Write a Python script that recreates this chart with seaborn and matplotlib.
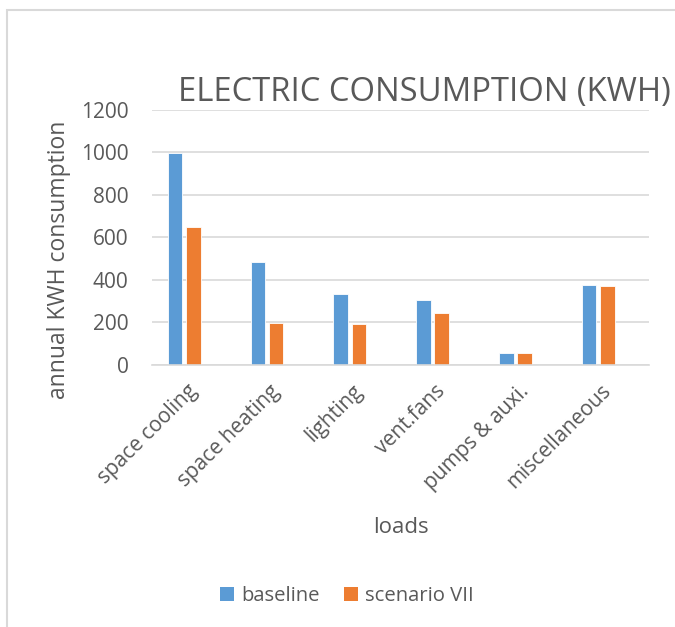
import matplotlib
matplotlib.use("Agg")
import matplotlib.pyplot as plt
from matplotlib.patches import Rectangle, Patch
from matplotlib.transforms import ScaledTranslation
import pandas as pd
import seaborn as sns

# Annual electric consumption per load type
categories = ["space cooling", "space heating", "lighting", "vent.fans",
              "pumps & auxi.", "miscellaneous"]
baseline = [994, 482, 332, 305, 56, 376]
scenario_vii = [648, 199, 194, 246, 56, 372]
series_names = ["baseline", "scenario VII"]
colors = ["#5B9BD5", "#ED7D31"]
y_ticks = [0, 200, 400, 600, 800, 1000, 1200]

df = pd.DataFrame({
    "load": categories * 2,
    "kwh": baseline + scenario_vii,
    "series": [series_names[0]] * len(categories) + [series_names[1]] * len(categories),
})

sns.set_theme(style="white")
plt.rcParams["font.family"] = ["Open Sans", "DejaVu Sans"]
text_color = "#595959"
grid_color = "#D9D9D9"

fig = plt.figure(figsize=(6.75, 6.27), dpi=100)
ax = fig.add_axes([152 / 675, 1 - 365 / 627, (649 - 152) / 675, (365 - 109.5) / 627])

sns.barplot(data=df, x="load", y="kwh", hue="series", palette=colors,
            width=0.44, gap=0.2, edgecolor="white", linewidth=0.6,
            saturation=1, legend=False, ax=ax)

ax.set_ylim(0, 1200)
ax.set_xlim(-0.389, 5.613)
ax.set_yticks(y_ticks)
ax.set_yticklabels([str(v) for v in y_ticks])
ax.yaxis.grid(True, color=grid_color, linewidth=1.2)
ax.set_axisbelow(True)
for side in ["top", "right", "left"]:
    ax.spines[side].set_visible(False)
ax.spines["bottom"].set_color(grid_color)
ax.spines["bottom"].set_linewidth(1.2)

ax.tick_params(axis="y", length=0, pad=17, labelsize=15, labelcolor=text_color)
ax.tick_params(axis="x", length=0, pad=8, labelsize=15, labelcolor=text_color)
shift = ScaledTranslation(10 / 100, -12 / 100, fig.dpi_scale_trans)
for lbl in ax.get_xticklabels():
    lbl.set_rotation(45)
    lbl.set_ha("right")
    lbl.set_rotation_mode("anchor")
    lbl.set_va("center")
    lbl.set_transform(lbl.get_transform() + shift)

ax.set_xlabel("loads", fontsize=16, color=text_color)
ax.xaxis.set_label_coords(0.5, -(517 - 365) / (365 - 109.5))
ax.set_ylabel("annual KWH consumption", fontsize=16.5, color=text_color)
ax.yaxis.set_label_coords(-(152 - 71) / (649 - 152), (365 - 260) / (365 - 109.5))

fig.text(424 / 675, 1 - 93 / 627, "ELECTRIC CONSUMPTION (KWH)", fontsize=23.6,
         color=text_color, ha="center", va="center")

handles = [Patch(facecolor=c, edgecolor="none") for c in colors]
fig.legend(handles, series_names, loc="center", bbox_to_anchor=(347 / 675, 1 - 596 / 627),
           ncol=2, frameon=False, fontsize=14.6, labelcolor=text_color,
           handlelength=0.7, handleheight=0.7, handletextpad=0.35, columnspacing=1.2)

# Chart-area frame
fig.patches.append(Rectangle((7 / 675, -0.2), 1.2, 1.2 - 10 / 627,
                             transform=fig.transFigure, fill=False,
                             edgecolor=grid_color, linewidth=1.5))

fig.savefig("out.png", dpi=100, facecolor="white")
